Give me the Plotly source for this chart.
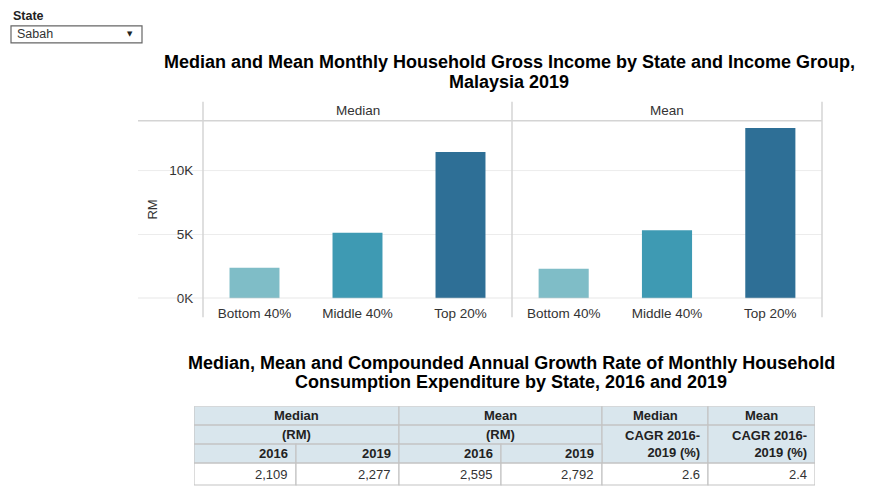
import plotly.graph_objects as go

# ---------------- data ----------------
state = "Sabah"
income_groups = ["Bottom 40%", "Middle 40%", "Top 20%"]
median_income = [2400, 5130, 11460]
mean_income = [2320, 5340, 13330]
group_colors = ["#7fbdc7", "#3e9ab3", "#2e6f96"]
y_tick_vals = [0, 5000, 10000]
y_tick_text = ["0K", "5K", "10K"]
panel_names = ["Median", "Mean"]

median_2016 = 2109
median_2019 = 2277
mean_2016 = 2595
mean_2019 = 2792
cagr_median = 2.6
cagr_mean = 2.4

title1_lines = ["Median and Mean Monthly Household Gross Income by State and Income Group,", "Malaysia 2019"]
title2_lines = ["Median, Mean and Compounded Annual Growth Rate of Monthly Household",
                "Consumption Expenditure by State, 2016 and 2019"]

# ---------------- layout helpers ----------------
W, H = 894, 498
S = 0.986  # observed vertical scale of the photographed page
FONT = "Arial, Liberation Sans, sans-serif"
TXT = "#333333"


def fx(p):
    return p / W


def fy(p):
    return 1 - (p / S) / H


fig = go.Figure()

fig.add_trace(go.Bar(x=income_groups, y=median_income, marker=dict(color=group_colors, line=dict(width=0)),
                     xaxis="x", yaxis="y", showlegend=False, hoverinfo="x+y"))
fig.add_trace(go.Bar(x=income_groups, y=mean_income, marker=dict(color=group_colors, line=dict(width=0)),
                     xaxis="x2", yaxis="y2", showlegend=False, hoverinfo="x+y"))

y_top = 13900
shapes = []
annotations = []

for v in y_tick_vals[1:]:
    shapes.append(dict(type="line", xref="paper", yref="y", x0=fx(138), x1=fx(822), y0=v, y1=v,
                       line=dict(color="#ececec", width=1), layer="below"))
shapes.append(dict(type="line", xref="paper", yref="y", x0=fx(138), x1=fx(822), y0=0, y1=0,
                   line=dict(color="#cfcfcf", width=1.5), layer="above"))
shapes.append(dict(type="line", xref="paper", yref="paper", x0=fx(138), x1=fx(822), y0=fy(121), y1=fy(121),
                   line=dict(color="#d4d4d4", width=1.5)))
for xp in [203, 512, 822]:
    shapes.append(dict(type="line", xref="paper", yref="paper", x0=fx(xp), x1=fx(xp), y0=fy(102), y1=fy(318),
                       line=dict(color="#d4d4d4", width=1.5)))

for name, cx in zip(panel_names, [357.5, 667]):
    annotations.append(dict(text=name, x=fx(cx), y=fy(111), xref="paper", yref="paper", showarrow=False,
                            font=dict(family=FONT, size=13.5, color=TXT), xanchor="center", yanchor="middle"))
annotations.append(dict(text="RM", x=fx(153), y=fy(210), xref="paper", yref="paper", showarrow=False,
                        textangle=-90, font=dict(family=FONT, size=13, color=TXT),
                        xanchor="center", yanchor="middle"))
for lines, cx, ys in [(title1_lines, 509, [62.5, 82]), (title2_lines, 511, [363.5, 383])]:
    for line, yy in zip(lines, ys):
        annotations.append(dict(text="<b>" + line + "</b>", x=fx(cx), y=fy(yy),
                                xref="paper", yref="paper", showarrow=False,
                                font=dict(family=FONT, size=18, color="#000000"),
                                xanchor="center", yanchor="middle"))

annotations.append(dict(text="<b>State</b>", x=fx(11), y=fy(16), xref="paper", yref="paper", showarrow=False,
                        font=dict(family=FONT, size=12.5, color="#222222"), xanchor="left", yanchor="middle"))
shapes.append(dict(type="rect", xref="paper", yref="paper", x0=fx(11), x1=fx(142), y0=fy(43), y1=fy(26),
                   line=dict(color="#666666", width=1.2), fillcolor="#ffffff"))
annotations.append(dict(text=state, x=fx(15), y=fy(34.5), xref="paper", yref="paper", showarrow=False,
                        font=dict(family=FONT, size=12.5, color=TXT), xanchor="left", yanchor="middle"))
annotations.append(dict(text="▼", x=fx(130), y=fy(34.5), xref="paper", yref="paper", showarrow=False,
                        font=dict(family="DejaVu Sans", size=7, color="#222222"), xanchor="center", yanchor="middle"))

col_edges = [0, 102, 205, 307, 408, 514, 621]
row_edges = [0, 19, 38, 57, 79]
header_fill = "#d9e6ed"
border = "#c4c4c4"

fmt = lambda v: f"{v:,}"
header_cells = [
    ("<b>Median</b>", 0, 2, 0, 1, "center"),
    ("<b>Mean</b>", 2, 4, 0, 1, "center"),
    ("<b>Median</b>", 4, 5, 0, 1, "center"),
    ("<b>Mean</b>", 5, 6, 0, 1, "center"),
    ("<b>(RM)</b>", 0, 2, 1, 2, "center"),
    ("<b>(RM)</b>", 2, 4, 1, 2, "center"),
    ("<b>CAGR 2016-</b><br><b>2019 (%)</b>", 4, 5, 1, 3, "right"),
    ("<b>CAGR 2016-</b><br><b>2019 (%)</b>", 5, 6, 1, 3, "right"),
    ("<b>2016</b>", 0, 1, 2, 3, "right"),
    ("<b>2019</b>", 1, 2, 2, 3, "right"),
    ("<b>2016</b>", 2, 3, 2, 3, "right"),
    ("<b>2019</b>", 3, 4, 2, 3, "right"),
]
data_values = [fmt(median_2016), fmt(median_2019), fmt(mean_2016), fmt(mean_2019),
               f"{cagr_median:.1f}", f"{cagr_mean:.1f}"]
data_cells = [(v, i, i + 1, 3, 4, "right") for i, v in enumerate(data_values)]

for cells, fill in [(header_cells, header_fill), (data_cells, "#ffffff")]:
    for text, c0, c1, r0, r1, align in cells:
        x0, x1 = col_edges[c0], col_edges[c1]
        y0, y1 = row_edges[r0], row_edges[r1]
        shapes.append(dict(type="rect", xref="x3", yref="y3", x0=x0, x1=x1, y0=y0, y1=y1,
                           line=dict(color=border, width=1.2), fillcolor=fill, layer="below"))
        if align == "center":
            ax, xa = (x0 + x1) / 2, "center"
        else:
            ax, xa = x1 - 6, "right"
        annotations.append(dict(text=text, x=ax, y=(y0 + y1) / 2, xref="x3", yref="y3", showarrow=False,
                                xanchor=xa, yanchor="middle", align=align,
                                font=dict(family=FONT, size=13, color="#222222" if fill == header_fill else TXT)))

axis_common = dict(type="category", showgrid=False, zeroline=False, showline=False,
                   ticks="outside", ticklen=2, tickcolor="rgba(0,0,0,0)",
                   tickfont=dict(family=FONT, size=13.5, color=TXT), fixedrange=True)

fig.update_layout(
    width=W, height=H, autosize=False,
    margin=dict(l=0, r=0, t=0, b=0),
    paper_bgcolor="#ffffff", plot_bgcolor="rgba(0,0,0,0)",
    bargap=0.515,
    font=dict(family=FONT, color=TXT),
    xaxis=dict(domain=[fx(203), fx(512)], anchor="y", **axis_common),
    xaxis2=dict(domain=[fx(512), fx(822)], anchor="y2", **axis_common),
    yaxis=dict(domain=[fy(299), fy(121)], range=[0, y_top], anchor="x", showgrid=False, zeroline=False,
               tickvals=y_tick_vals, ticktext=y_tick_text, ticks="outside", ticklen=6,
               tickcolor="rgba(0,0,0,0)", tickfont=dict(family=FONT, size=13.5, color=TXT), fixedrange=True),
    yaxis2=dict(domain=[fy(299), fy(121)], range=[0, y_top], anchor="x2", showgrid=False, zeroline=False,
                showticklabels=False, fixedrange=True),
    xaxis3=dict(domain=[fx(194), fx(815)], range=[0, col_edges[-1]], anchor="y3", visible=False, fixedrange=True),
    yaxis3=dict(domain=[fy(487), fy(407)], range=[row_edges[-1] + 1, 0], anchor="x3", visible=False,
                fixedrange=True),
    shapes=shapes,
    annotations=annotations,
    hovermode="closest",
)

fig.write_html(
    "out.html", config={"displayModeBar": False},
    post_script=("document.documentElement.style.margin='0';document.documentElement.style.padding='0';"
                 "document.documentElement.style.overflow='hidden';document.body.style.margin='0';"
                 "document.body.style.padding='0';document.body.style.overflow='hidden';"),
)
